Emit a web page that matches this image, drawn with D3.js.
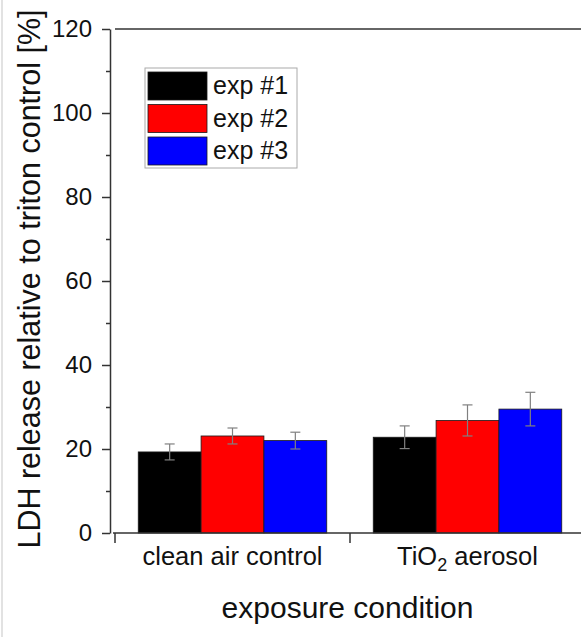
<!DOCTYPE html>
<html>
<head>
<meta charset="utf-8">
<script src="https://cdn.jsdelivr.net/npm/d3@7"></script>
<style>
  body { margin: 0; background: #fff; }
  svg { display: block; font-family: "Liberation Sans", Arial, sans-serif; }
</style>
</head>
<body>
<div id="chart"></div>
<script>
// Données
const categories = ["clean air control", "TiO2 aerosol"];
const series = ["exp #1", "exp #2", "exp #3"];
const exp1 = [19.3, 22.8];
const exp1Err = [1.9, 2.7];
const exp2 = [23.1, 26.8];
const exp2Err = [1.9, 3.7];
const exp3 = [22.0, 29.5];
const exp3Err = [2.0, 4.0];
const yTicks = [0, 20, 40, 60, 80, 100, 120];
const yMinorTicks = [10, 30, 50, 70, 90, 110];
const colors = ["#000000", "#ff0000", "#0000ff"];

const values = [exp1, exp2, exp3];
const errors = [exp1Err, exp2Err, exp3Err];

// tableau à plat : une ligne par barre
const bars = [];
categories.forEach((c, i) => {
    series.forEach((s, j) => {
        bars.push({ cat: c, serie: s, value: values[j][i], err: errors[j][i] });
    });
});

//---------------------------------------------------------------------------------------

// Canevas
const width = 581;
const height = 637;
const plotLeft = 110;
const plotTop = 29;
const plotBottom = 533;
const plotRight = 585;

const svg = d3.select("#chart")
    .append("svg")
    .attr("width", width)
    .attr("height", height);

// petite bordure grise à gauche de la capture
svg.append("line")
    .attr("x1", 2).attr("x2", 2)
    .attr("y1", 0).attr("y2", height)
    .attr("stroke", "#e2e2e2")
    .attr("stroke-width", 2);

// Échelles
const x0 = d3.scaleBand()
    .domain(categories)
    .range([plotLeft + 5, plotRight])
    .padding(0);

const x1 = d3.scaleBand()
    .domain(series)
    .range([0, x0.bandwidth()])
    .paddingInner(0)
    .paddingOuter(0.37);

const y = d3.scaleLinear()
    .domain([0, 120])
    .range([plotBottom, plotTop]);

const color = d3.scaleOrdinal()
    .domain(series)
    .range(colors);

//---------------------------------------------------------------------------------------

// Barres
svg.append("g")
    .selectAll("rect")
    .data(bars)
    .join("rect")
    .attr("x", d => x0(d.cat) + x1(d.serie))
    .attr("y", d => y(d.value))
    .attr("width", x1.bandwidth())
    .attr("height", d => y(0) - y(d.value))
    .attr("fill", d => color(d.serie))
    .attr("stroke", "#1a1a1a")
    .attr("stroke-width", 0.8);

// Barres d'erreur
const capW = 5;
const err = svg.append("g")
    .attr("stroke", "#808080")
    .attr("stroke-width", 1.2)
    .selectAll("g")
    .data(bars)
    .join("g")
    .attr("transform", d => `translate(${x0(d.cat) + x1(d.serie) + x1.bandwidth() / 2}, 0)`);

err.append("line")
    .attr("y1", d => y(d.value - d.err))
    .attr("y2", d => y(d.value + d.err));

err.append("line")
    .attr("x1", -capW).attr("x2", capW)
    .attr("y1", d => y(d.value + d.err))
    .attr("y2", d => y(d.value + d.err));

err.append("line")
    .attr("x1", -capW).attr("x2", capW)
    .attr("y1", d => y(d.value - d.err))
    .attr("y2", d => y(d.value - d.err));

//---------------------------------------------------------------------------------------

// Axe Y
const yAxis = svg.append("g")
    .attr("transform", `translate(${plotLeft}, 0)`)
    .call(d3.axisLeft(y).tickValues(yTicks).tickSize(8).tickPadding(10).tickSizeOuter(0));

svg.append("g")
    .attr("transform", `translate(${plotLeft}, 0)`)
    .call(d3.axisLeft(y).tickValues(yMinorTicks).tickSize(4).tickFormat("").tickSizeOuter(0))
    .select(".domain").remove();

yAxis.selectAll("text")
    .attr("font-size", "24px")
    .attr("font-family", "Liberation Sans, Arial, sans-serif")
    .attr("fill", "#111");

svg.selectAll(".tick line, .domain")
    .attr("stroke", "#333")
    .attr("stroke-width", 1.5);

// Ligne du haut
svg.append("line")
    .attr("x1", plotLeft + 5).attr("x2", plotRight)
    .attr("y1", y(120)).attr("y2", y(120))
    .attr("stroke", "#333")
    .attr("stroke-width", 1.5);

// Axe X
svg.append("line")
    .attr("x1", plotLeft + 3).attr("x2", plotRight)
    .attr("y1", y(0)).attr("y2", y(0))
    .attr("stroke", "#333")
    .attr("stroke-width", 1.5);

svg.append("g")
    .selectAll("line")
    .data(categories)
    .join("line")
    .attr("x1", d => x0(d)).attr("x2", d => x0(d))
    .attr("y1", y(0)).attr("y2", y(0) + 10)
    .attr("stroke", "#333")
    .attr("stroke-width", 1.5);

// Libellés des catégories (avec indice pour TiO2)
const catLabels = svg.append("g")
    .selectAll("text")
    .data(categories)
    .join("text")
    .attr("x", d => x0(d) + x0.bandwidth() / 2)
    .attr("y", y(0) + 32)
    .attr("text-anchor", "middle")
    .attr("font-size", "25.5px")
    .attr("fill", "#111");

catLabels.each(function(d) {
    const t = d3.select(this);
    const m = d.match(/^(.*O)(2)(.*)$/);
    if (m) {
        t.append("tspan").text(m[1]);
        t.append("tspan").text(m[2]).attr("font-size", "18px").attr("dy", "6");
        t.append("tspan").text(m[3]).attr("dy", "-6");
    } else {
        t.text(d);
    }
});

// Titres des axes
svg.append("text")
    .attr("x", (plotLeft + plotRight) / 2)
    .attr("y", 618)
    .attr("text-anchor", "middle")
    .attr("font-size", "30px")
    .attr("fill", "#111")
    .text("exposure condition");

svg.append("text")
    .attr("transform", `translate(40, ${(plotTop + plotBottom) / 2 - 2}) rotate(-90)`)
    .attr("text-anchor", "middle")
    .attr("font-size", "30.5px")
    .attr("fill", "#111")
    .text("LDH release relative to triton control [%]");

//---------------------------------------------------------------------------------------

// Légende
const legX = 145;
const legY = 68;
const rowH = 32.5;

svg.append("rect")
    .attr("x", legX).attr("y", legY)
    .attr("width", 152).attr("height", 100)
    .attr("fill", "#fff")
    .attr("stroke", "#aaa")
    .attr("stroke-width", 1);

const legend = svg.selectAll(".legend")
    .data(series)
    .join("g")
    .attr("class", "legend")
    .attr("transform", (d, i) => `translate(${legX + 3}, ${legY + 4 + i * rowH})`);

legend.append("rect")
    .attr("width", 59)
    .attr("height", 28)
    .attr("fill", d => color(d))
    .attr("stroke", "#1a1a1a")
    .attr("stroke-width", 0.8);

legend.append("text")
    .attr("x", 65)
    .attr("y", 22)
    .attr("font-size", "25px")
    .attr("fill", "#111")
    .text(d => d);
</script>
</body>
</html>
